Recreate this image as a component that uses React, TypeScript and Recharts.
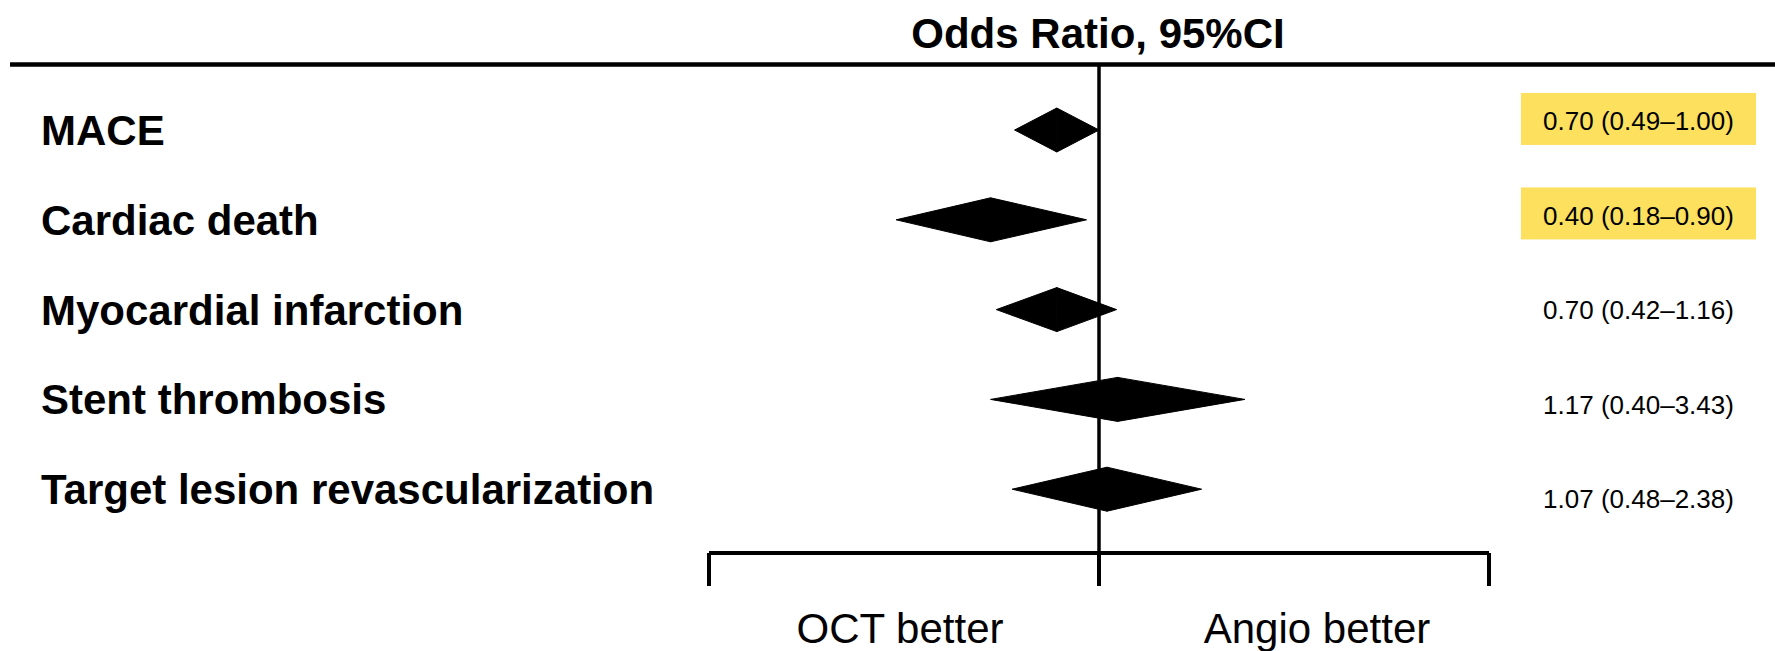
import React from 'react';
import { ComposedChart, Bar, XAxis, YAxis, ReferenceLine, Customized } from 'recharts';

const outcomes = ['MACE', 'Cardiac death', 'Myocardial infarction', 'Stent thrombosis', 'Target lesion revascularization'];
const oddsRatio = [0.70, 0.40, 0.70, 1.17, 1.07];
const ciLow = [0.49, 0.18, 0.42, 0.40, 0.48];
const ciHigh = [1.00, 0.90, 1.16, 3.43, 2.38];
const highlighted = [true, true, false, false, false];
const xTicks = [1 / 27, 1, 27];
const title = 'Odds Ratio, 95%CI';
const leftSideLabel = 'OCT better';
const rightSideLabel = 'Angio better';

const rows = outcomes.map((name, i) => ({
  name,
  est: oddsRatio[i],
  lo: ciLow[i],
  hi: ciHigh[i],
  hl: highlighted[i],
  text: `${oddsRatio[i].toFixed(2)} (${ciLow[i].toFixed(2)}\u2013${ciHigh[i].toFixed(2)})`,
}));

const W = 1775;
const H = 651;
const FONT = '"Liberation Sans", Arial, Helvetica, sans-serif';

const LeftHalf = (props: any) => {
  const { x, y, width, height } = props;
  if (x == null || isNaN(x)) return null;
  const pts = `${x},${y + height / 2} ${x + width},${y} ${x + width},${y + height}`;
  return <polygon points={pts} fill="#000" stroke="#000" strokeWidth={1} />;
};

const RightHalf = (props: any) => {
  const { x, y, width, height } = props;
  if (x == null || isNaN(x)) return null;
  const pts = `${x},${y} ${x + width},${y + height / 2} ${x},${y + height}`;
  return <polygon points={pts} fill="#000" stroke="#000" strokeWidth={1} />;
};

const CiLabel = (props: any) => {
  const { y, height, payload } = props;
  if (y == null || isNaN(y) || !payload) return null;
  const cy = y + height / 2;
  return (
    <g>
      {payload.hl && <rect x={1521} y={cy - 28} width={235} height={52} fill="#FDE05E" />}
      <text x={1638.5} y={cy + 9.3} textAnchor="middle" fontFamily={FONT} fontSize={26} fill="#000">
        {payload.text}
      </text>
    </g>
  );
};

const LeftTick = (props: any) => {
  const { y, payload } = props;
  return (
    <text x={41} y={y + 15} textAnchor="start" fontFamily={FONT} fontSize={42} fontWeight="bold" fill="#000">
      {payload.value}
    </text>
  );
};

const Overlay = () => (
  <g>
    <line x1={10} x2={W} y1={64.5} y2={64.5} stroke="#000" strokeWidth={4.5} />
    <text x={1098} y={47.7} textAnchor="middle" fontFamily={FONT} fontSize={42} fontWeight="bold" fill="#000">
      {title}
    </text>
    <text x={900} y={643} textAnchor="middle" fontFamily={FONT} fontSize={42} fill="#000">
      {leftSideLabel}
    </text>
    <text x={1317} y={643} textAnchor="middle" fontFamily={FONT} fontSize={42} fill="#000">
      {rightSideLabel}
    </text>
  </g>
);

export default function App() {
  return (
    <div style={{ position: 'absolute', left: 0, top: 0, width: W, height: H, background: '#fff' }}>
      <ComposedChart
        width={W}
        height={H}
        data={rows}
        layout="vertical"
        margin={{ top: 64, right: 286, bottom: 0, left: 0 }}
      >
        <XAxis
          type="number"
          scale="log"
          domain={[xTicks[0], xTicks[2]]}
          ticks={xTicks}
          interval={0}
          height={98}
          axisLine={{ stroke: '#000', strokeWidth: 4 }}
          tickLine={{ stroke: '#000', strokeWidth: 4 }}
          tickSize={33}
          tick={() => <g />}
        />
        <YAxis
          yAxisId="a"
          type="category"
          dataKey="name"
          width={709}
          axisLine={false}
          tickLine={false}
          interval={0}
          padding={{ top: 21, bottom: 19 }}
          tick={<LeftTick />}
        />
        <YAxis yAxisId="b" type="category" dataKey="name" hide padding={{ top: 21, bottom: 19 }} />
        <YAxis yAxisId="r" type="category" dataKey="name" hide padding={{ top: 9.5, bottom: 7 }} />
        <Bar yAxisId="r" dataKey={(d: any) => [d.lo, d.hi]} isAnimationActive={false} shape={<CiLabel />} />
        <Bar yAxisId="a" dataKey={(d: any) => [d.lo, d.est]} barSize={44} isAnimationActive={false} shape={<LeftHalf />} />
        <Bar yAxisId="b" dataKey={(d: any) => [d.est, d.hi]} barSize={44} isAnimationActive={false} shape={<RightHalf />} />
        <ReferenceLine x={1} yAxisId="a" stroke="#000" strokeWidth={3.5} />
        <Customized component={Overlay} />
      </ComposedChart>
    </div>
  );
}
